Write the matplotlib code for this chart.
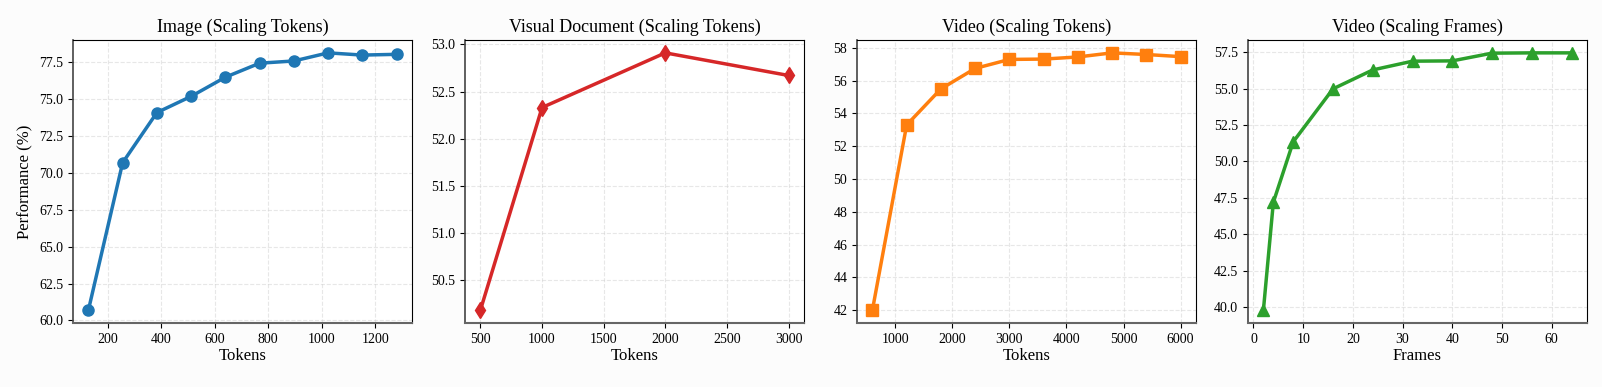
import matplotlib
matplotlib.use('Agg')
import matplotlib.pyplot as plt

plt.rcParams['font.family'] = ['Liberation Serif', 'DejaVu Serif']

# Image (scaling tokens)
img_tokens = [128, 256, 384, 512, 640, 768, 896, 1024, 1152, 1280]
img_perf = [60.7, 70.7, 74.1, 75.2, 76.5, 77.45, 77.6, 78.15, 78.0, 78.05]

# Visual document (scaling tokens)
doc_tokens = [500, 1000, 2000, 3000]
doc_perf = [50.18, 52.33, 52.91, 52.67]

# Video (scaling tokens)
vid_tokens = [600, 1200, 1800, 2400, 3000, 3600, 4200, 4800, 5400, 6000]
vid_perf = [42.0, 53.3, 55.5, 56.75, 57.3, 57.32, 57.45, 57.7, 57.6, 57.47]

# Video (scaling frames)
vid_frames = [2, 4, 8, 16, 24, 32, 40, 48, 56, 64]
frm_perf = [39.8, 47.2, 51.35, 54.98, 56.28, 56.88, 56.9, 57.43, 57.45, 57.45]

panels = [
    (img_tokens, img_perf, '#1f77b4', 'o', 'Image (Scaling Tokens)', 'Tokens'),
    (doc_tokens, doc_perf, '#d62728', 'd', 'Visual Document (Scaling Tokens)', 'Tokens'),
    (vid_tokens, vid_perf, '#ff7f0e', 's', 'Video (Scaling Tokens)', 'Tokens'),
    (vid_frames, frm_perf, '#2ca02c', '^', 'Video (Scaling Frames)', 'Frames'),
]

fig = plt.figure(figsize=(16.02, 3.87), dpi=100)
fig.patch.set_facecolor('#fcfcfc')

lefts = [73, 465, 857, 1248]
W, H = 1602, 387
bottom, top = 323, 40

for i, (x, y, color, marker, title, xlabel) in enumerate(panels):
    ax = fig.add_axes([lefts[i] / W, 1 - bottom / H, 339 / W, (bottom - top) / H])
    ax.set_facecolor('white')
    ax.plot(x, y, color=color, marker=marker, linewidth=2.5, markersize=8)
    ax.set_title(title, fontsize=13)
    ax.set_xlabel(xlabel, fontsize=12, labelpad=2)
    if i == 0:
        ax.set_ylabel('Performance (%)', fontsize=12)
    ax.tick_params(labelsize=10)
    ax.grid(True, linestyle='--', color='#d0d0d0', alpha=0.5, linewidth=0.8)
    ax.spines['bottom'].set_color('#666666')
    ax.spines['bottom'].set_linewidth(1.5)
    ax.spines['left'].set_color('#444444')
    ax.spines['left'].set_linewidth(1.2)

fig.savefig('out.png', dpi=100, facecolor=fig.get_facecolor())
